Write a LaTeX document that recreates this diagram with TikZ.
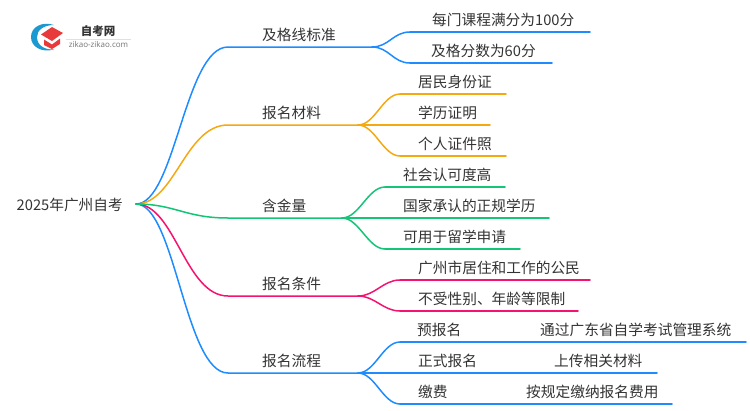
\documentclass[tikz,border=0pt]{standalone}
\usepackage{fontspec}
\setmainfont{Noto Sans CJK SC}
\newfontfamily\latinf{Open Sans}
\definecolor{cblue}{HTML}{1E8CFF}
\definecolor{corange}{HTML}{F5A911}
\definecolor{cgreen}{HTML}{14C477}
\definecolor{cpink}{HTML}{F5136F}
\definecolor{ctext}{HTML}{333333}
\definecolor{logoblue}{HTML}{1A9AD0}
\definecolor{logored}{HTML}{E83A3A}
\tikzset{
 x=1pt,y=-1pt,
 link/.style={line width=1.5pt,line cap=round},
 lbl/.style={font=\fontsize{14.7}{15}\selectfont,text=ctext,inner sep=0pt,anchor=base west},
}
\newcommand{\kidcurve}[3]{\draw[link,#1] (#2) .. controls ([xshift=17pt]#2) and ([xshift=-17pt]#3) .. (#3);}
\begin{document}
\begin{tikzpicture}
\useasboundingbox (0,0) rectangle (750,410);
% logo
\fill[logoblue] (54,25) .. controls (42,21) and (31,27) .. (31,37) .. controls (31,47) and (42,53) .. (54,49.5) .. controls (44,50) and (37,45) .. (37,37) .. controls (37,30) and (44,25) .. (54,25) -- cycle;
\fill[logored] (41,34.5) -- (52,27) -- (63,33) -- (52,41) -- cycle;
\fill[logored] (44,39.5) -- (52,44.5) -- (60,38.5) -- (60,44) -- (52,49) -- (44,45) -- cycle;
\node[inner sep=0pt,text=ctext] (logotitle) at (98,31) {\fontsize{11.5}{12}\selectfont\bfseries 自考网};
\node[inner sep=0pt,text=black!55] (logosub) at (98.5,45) {\latinf\fontsize{8}{8}\selectfont zikao-zikao.com};
\draw[black!12,line width=.5pt] (66,39) -- (131,39);
% junctions
\coordinate (root) at (136,204);
\coordinate (a) at (228,47);   \coordinate (aj) at (372,47);
\coordinate (b) at (228,125);  \coordinate (bj) at (358,125);
\coordinate (c) at (228,218);  \coordinate (cj) at (342,218);
\coordinate (d) at (228,296);  \coordinate (dj) at (358,296);
\coordinate (e) at (228,373);  \coordinate (ej) at (358,373);
\coordinate (a1) at (410,32);  \coordinate (a1e) at (590,32);
\coordinate (a2) at (410,63);  \coordinate (a2e) at (552,63);
\coordinate (b1) at (400,94);  \coordinate (b1e) at (506,94);
\coordinate (b2e) at (490,125);
\coordinate (b3) at (400,156); \coordinate (b3e) at (506,156);
\coordinate (c1) at (385,187); \coordinate (c1e) at (505,187);
\coordinate (c2e) at (549,218);
\coordinate (c3) at (385,249); \coordinate (c3e) at (520,249);
\coordinate (d1) at (400,280); \coordinate (d1e) at (590,280);
\coordinate (d2) at (400,311); \coordinate (d2e) at (578,311);
\coordinate (e1) at (400,342); \coordinate (e1e) at (746,342);
\coordinate (e2e) at (657,373);
\coordinate (e3) at (400,404); \coordinate (e3e) at (672,404);
% main branches
\draw[link,cblue] (root) .. controls (175,204) and (185,47) .. (a) -- (aj);
\draw[link,corange] (root) .. controls (175,204) and (185,125) .. (b) -- (bj);
\draw[link,cblue] (root) .. controls (175,204) and (185,373) .. (e) -- (ej);
\draw[link,cpink] (root) .. controls (175,204) and (185,296) .. (d) -- (dj);
\draw[link,cgreen] (root) .. controls (175,204) and (185,218) .. (c) -- (cj);
% children
\kidcurve{cblue}{aj}{a1} \draw[link,cblue] (a1) -- (a1e);
\kidcurve{cblue}{aj}{a2} \draw[link,cblue] (a2) -- (a2e);
\kidcurve{corange}{bj}{b1} \draw[link,corange] (b1) -- (b1e);
\draw[link,corange] (bj) -- (b2e);
\kidcurve{corange}{bj}{b3} \draw[link,corange] (b3) -- (b3e);
\kidcurve{cgreen}{cj}{c1} \draw[link,cgreen] (c1) -- (c1e);
\draw[link,cgreen] (cj) -- (c2e);
\kidcurve{cgreen}{cj}{c3} \draw[link,cgreen] (c3) -- (c3e);
\kidcurve{cpink}{dj}{d1} \draw[link,cpink] (d1) -- (d1e);
\kidcurve{cpink}{dj}{d2} \draw[link,cpink] (d2) -- (d2e);
\kidcurve{cblue}{ej}{e1} \draw[link,cblue] (e1) -- (e1e);
\draw[link,cblue] (ej) -- (e2e);
\kidcurve{cblue}{ej}{e3} \draw[link,cblue] (e3) -- (e3e);
% labels
\node[lbl] (troot) at (16.5,210.5) {2025年广州自考};
\node[lbl] (ta) at (262,40.5) {及格线标准};
\node[lbl] (tb) at (262,118.5) {报名材料};
\node[lbl] (tc) at (262,211.5) {含金量};
\node[lbl] (td) at (262,289.5) {报名条件};
\node[lbl] (te) at (262,366.5) {报名流程};
\node[lbl] (ta1) at (432,25.5) {每门课程满分为100分};
\node[lbl] (ta2) at (431,56.5) {及格分数为60分};
\node[lbl] (tb1) at (418,87.5) {居民身份证};
\node[lbl] (tb2) at (418,118.5) {学历证明};
\node[lbl] (tb3) at (418,149.5) {个人证件照};
\node[lbl] (tc1) at (403,180.5) {社会认可度高};
\node[lbl] (tc2) at (403,211.5) {国家承认的正规学历};
\node[lbl] (tc3) at (403,242.5) {可用于留学申请};
\node[lbl] (td1) at (418,273.5) {广州市居住和工作的公民};
\node[lbl] (td2) at (418,304.5) {不受性别、年龄等限制};
\node[lbl] (te1) at (417,335.5) {预报名};
\node[lbl] (te2) at (418,366.5) {正式报名};
\node[lbl] (te3) at (418,397.5) {缴费};
\node[lbl] (te1b) at (540,335.5) {通过广东省自学考试管理系统};
\node[lbl] (te2b) at (554,366.5) {上传相关材料};
\node[lbl] (te3b) at (526,397.5) {按规定缴纳报名费用};
\end{tikzpicture}
\end{document}
